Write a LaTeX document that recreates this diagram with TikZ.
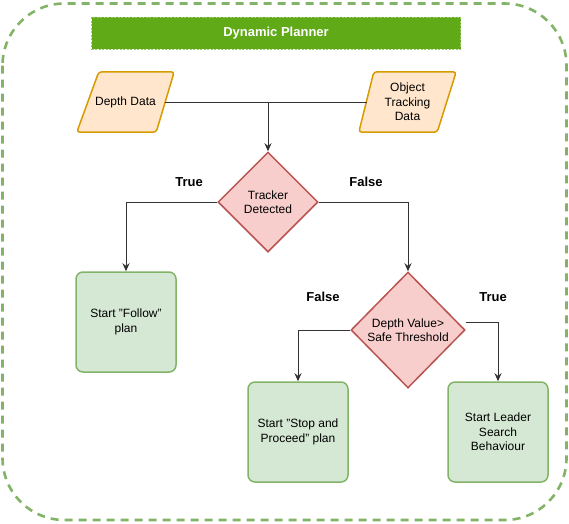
\documentclass[tikz,border=0pt]{standalone}
\usepackage{fontspec}
\setmainfont{Liberation Sans}
\usetikzlibrary{shapes.geometric,arrows.meta,backgrounds}
\definecolor{outerg}{HTML}{82B366}
\definecolor{titleg}{HTML}{60A917}
\definecolor{titleb}{HTML}{9BCB6B}
\definecolor{boxf}{HTML}{D5E8D4}
\definecolor{pgf}{HTML}{FFE6CC}
\definecolor{pgs}{HTML}{D79B00}
\definecolor{dmf}{HTML}{F8CECC}
\definecolor{dms}{HTML}{B85450}
\definecolor{linec}{HTML}{333333}
\tikzset{
  txt/.style={font=\fontsize{12}{14.5}\selectfont, align=center, text=black},
  titlebox/.style={draw=titleb, dashed, dash pattern=on 2pt off 1.5pt, line width=0.8pt, fill=titleg, text=white, font=\bfseries\fontsize{13}{15}\selectfont, minimum width=369, minimum height=32, inner sep=0},
  datatext/.style={txt, minimum width=97, minimum height=60, inner sep=0},
  pgram/.style={draw=pgs, fill=pgf, line width=1.5pt, rounded corners=3pt, line join=round},
  decision/.style={txt, diamond, draw=dms, fill=dmf, line width=1.5pt, inner sep=0},
  actionbox/.style={txt, rectangle, rounded corners=7pt, draw=outerg, fill=boxf, line width=1.5pt, minimum width=100, minimum height=100, inner sep=0},
  lbl/.style={font=\bfseries\fontsize{13}{15}\selectfont, text=black},
  conn/.style={draw=linec, line width=1pt},
  arr/.style={conn, -{Stealth[length=8pt,width=7pt]}},
  outerbox/.style={draw=outerg, line width=2.6pt, dash pattern=on 8pt off 6pt, rounded corners=62pt}
}
\begin{document}
\begin{tikzpicture}[x=1pt,y=-1pt]
\useasboundingbox (0,0) rectangle (569,523);
\draw[outerbox] (2.5,3.5) rectangle (566.5,520);
\node[titlebox] (title) at (276,33) {Dynamic Planner};
\node[datatext] (dd) at (125.5,102) {Depth Data};
\node[datatext] (otd) at (407.5,102) {Object\\Tracking\\Data};
\begin{scope}[on background layer]
\draw[pgram] (dd.south west) -- ([xshift=22pt]dd.north west) -- (dd.north east) -- ([xshift=-18pt]dd.south east) -- cycle;
\draw[pgram] (otd.south west) -- ([xshift=15pt]otd.north west) -- (otd.north east) -- ([xshift=-19pt]otd.south east) -- cycle;
\end{scope}
\node[decision, minimum width=100, minimum height=100] (td) at (268,202) {Tracker\\Detected};
\node[decision, minimum width=114, minimum height=116] (d2) at (408,330) {Depth Value>\\Safe Threshold};
\node[actionbox] (follow) at (126,322) {Start "Follow"\\plan};
\node[actionbox] (stop) at (298,432) {Start "Stop and\\Proceed" plan};
\node[actionbox] (leader) at (498,432) {Start Leader\\Search\\Behaviour};
\node[lbl] (l1) at (189,182) {True};
\node[lbl] (l2) at (366,182) {False};
\node[lbl] (l3) at (323,297) {False};
\node[lbl] (l4) at (493,297) {True};
\coordinate (j) at (268,102);
\draw[conn] ([xshift=-9pt]dd.east) -- ([xshift=8pt]otd.west);
\draw[arr] (j) -- (td.north);
\draw[arr] (td.west) -| (follow.north);
\draw[arr] (td.east) -| (d2.north);
\draw[arr] (d2.west) -| (stop.north);
\draw[arr] ([yshift=8pt]d2.east) -| (leader.north);
\end{tikzpicture}
\end{document}
